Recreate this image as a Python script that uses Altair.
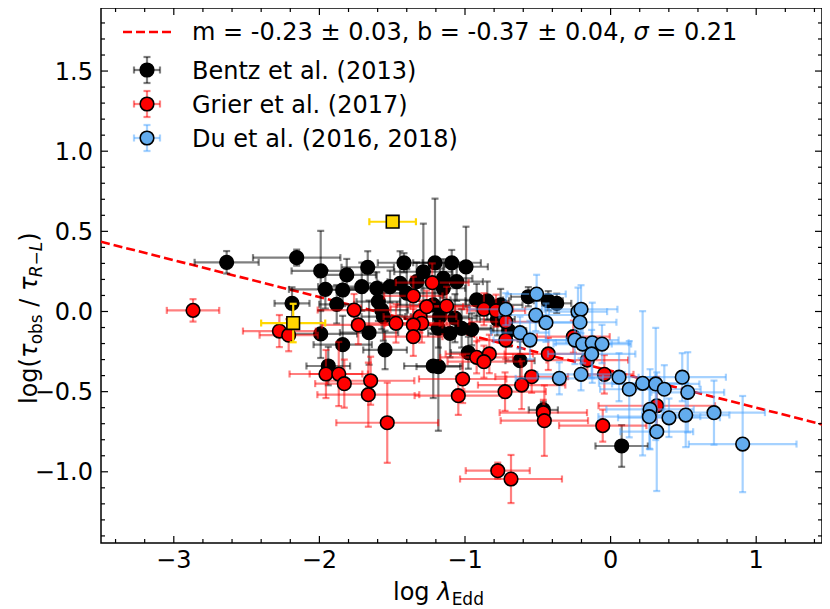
import altair as alt
import pandas as pd

# ---------------- data ----------------
bentz_x = [-2.637, -2.156, -1.991, -2.188, -1.812, -1.959, -1.840, -1.881, -1.991, -1.840,
           -1.939, -1.668, -1.709, -1.606, -1.595, -1.515, -1.446, -1.419, -1.286, -1.206,
           -1.091, -0.993, -1.149, -1.057, -1.149, -1.332, -1.400, -1.572, -1.561, -1.659,
           -1.549, -1.218, -1.172, -1.069, -1.183, -1.103, -1.023, -0.954, -0.977, -1.218,
           -1.183, -0.920, -0.847, -0.755, -0.778, -0.622, -0.565, -0.428, -0.370, -0.462,
           0.076, -0.700]
bentz_y = [0.307, 0.336, 0.253, 0.051, 0.228, 0.138, 0.134, 0.045, -0.140, -0.207,
           -0.340, 0.276, 0.155, 0.145, 0.061, 0.155, 0.176, 0.304, 0.248, 0.304,
           0.304, 0.279, 0.207, 0.186, 0.145, 0.186, 0.114, 0.009, -0.032, -0.132,
           -0.240, 0.041, -0.032, -0.042, -0.105, -0.136, -0.105, -0.111, -0.257, -0.340,
           -0.344, 0.072, 0.067, 0.041, -0.049, -0.307, 0.092, 0.067, 0.051, -0.614,
           -0.839, -0.120]
bentz_xerr = [0.22, 0.30, 0.20, 0.12, 0.20, 0.25, 0.15, 0.12, 0.25, 0.20,
              0.15, 0.18, 0.30, 0.20, 0.15, 0.12, 0.15, 0.18, 0.20, 0.15,
              0.20, 0.15, 0.20, 0.18, 0.15, 0.20, 0.22, 0.18, 0.15, 0.20,
              0.15, 0.25, 0.20, 0.15, 0.18, 0.15, 0.20, 0.15, 0.12, 0.20,
              0.15, 0.18, 0.15, 0.15, 0.12, 0.10, 0.12, 0.10, 0.10, 0.10,
              0.18, 0.12]
bentz_yerr = [0.07, 0.05, 0.25, 0.10, 0.10, 0.12, 0.10, 0.12, 0.15, 0.18,
              0.12, 0.10, 0.15, 0.10, 0.12, 0.10, 0.20, 0.06, 0.30, 0.40,
              0.08, 0.25, 0.12, 0.12, 0.10, 0.12, 0.15, 0.12, 0.15, 0.20,
              0.12, 0.15, 0.30, 0.15, 0.12, 0.15, 0.12, 0.10, 0.10, 0.20,
              0.40, 0.10, 0.12, 0.10, 0.10, 0.12, 0.06, 0.06, 0.06, 0.05,
              0.13, 0.10]

grier_x = [-2.868, -2.275, -2.211, -1.955, -1.867, -1.829, -1.762, -1.733, -1.474, -1.355,
           -1.309, -1.297, -1.355, -1.355, -1.263, -1.225, -1.126, -0.870, -0.787, -0.720,
           -0.720, -0.920, -0.833, -0.870, -0.428, -0.542, -0.611, -1.016, -1.046, -0.725,
           -1.648, -1.664, -1.534, -0.462, -0.455, -0.256, -0.160, -0.043, 0.317, -0.054,
           -0.775, -0.684]
grier_y = [0.007, -0.122, -0.148, -0.390, -0.390, -0.450, 0.009, -0.084, -0.074, 0.097,
           -0.032, -0.074, -0.084, -0.157, 0.030, 0.180, 0.034, 0.014, 0.005, -0.064,
           -0.178, -0.286, -0.265, -0.313, -0.265, -0.407, -0.459, -0.421, -0.525, -0.500,
           -0.432, -0.519, -0.694, -0.631, -0.681, -0.157, -0.303, -0.392, -0.588, -0.712,
           -0.993, -1.045]
grier_xerr = [0.18, 0.25, 0.20, 0.25, 0.20, 0.20, 0.25, 0.25, 0.30, 0.20,
              0.25, 0.25, 0.20, 0.20, 0.25, 0.25, 0.25, 0.20, 0.20, 0.25,
              0.20, 0.25, 0.30, 0.25, 0.30, 0.25, 0.30, 0.30, 0.30, 0.28,
              0.30, 0.35, 0.35, 0.30, 0.30, 0.25, 0.28, 0.20, 0.40, 0.30,
              0.22, 0.35]
grier_yerr = [0.07, 0.10, 0.10, 0.15, 0.20, 0.15, 0.10, 0.12, 0.12, 0.12,
              0.10, 0.12, 0.10, 0.12, 0.10, 0.12, 0.12, 0.10, 0.10, 0.12,
              0.12, 0.10, 0.12, 0.10, 0.10, 0.10, 0.15, 0.15, 0.12, 0.12,
              0.15, 0.20, 0.25, 0.08, 0.22, 0.10, 0.10, 0.12, 0.18, 0.10,
              0.05, 0.15]

du_x = [-0.720, -0.508, -0.514, -0.444, -0.622, -0.554, -0.352, -0.224, -0.203, -0.210,
        -0.245, -0.192, -0.126, -0.059, -0.130, -0.203, 0.058, 0.128, 0.220, 0.310,
        0.369, 0.492, 0.530, 0.271, 0.266, 0.401, 0.516, 0.710, 0.317, 0.907]
du_y = [0.014, 0.109, -0.022, -0.070, -0.132, -0.178, -0.417, -0.001, 0.014, -0.067,
        -0.178, -0.203, -0.195, -0.203, -0.265, -0.392, -0.410, -0.485, -0.448, -0.452,
        -0.485, -0.410, -0.504, -0.610, -0.656, -0.663, -0.646, -0.631, -0.750, -0.827]
du_xerr = [0.25, 0.20, 0.25, 0.25, 0.20, 0.25, 0.30, 0.20, 0.25, 0.25,
           0.30, 0.20, 0.25, 0.20, 0.30, 0.30, 0.25, 0.20, 0.30, 0.30,
           0.25, 0.30, 0.25, 0.30, 0.35, 0.35, 0.30, 0.35, 0.25, 0.37]
du_yerr = [0.10, 0.12, 0.10, 0.12, 0.10, 0.12, 0.10, 0.15, 0.15, 0.12,
           0.15, 0.12, 0.25, 0.12, 0.15, 0.10, 0.15, 0.30, 0.45, 0.35,
           0.15, 0.15, 0.25, 0.25, 0.20, 0.12, 0.20, 0.20, 0.37, 0.30]

special_x = [-2.18, -1.497]
special_y = [-0.072, 0.56]
special_xerr = [0.22, 0.16]
special_yerr = [0.12, 0.0]

fit_m, fit_b = -0.23, -0.37
fit_x = [-3.5, 1.5]

legend_fit_text = "m = -0.23 \u00b1 0.03, b = -0.37 \u00b1 0.04,"
legend_fit_tail = "= 0.21"
legend_labels = ["Bentz et al. (2013)", "Grier et al. (2017)", "Du et al. (2016, 2018)"]

x_major = [-3, -2, -1, 0, 1]
x_major_labels = ["\u22123", "\u22122", "\u22121", "0", "1"]
x_minor = [-3.4, -3.2, -2.8, -2.6, -2.4, -2.2, -1.8, -1.6, -1.4, -1.2, -0.8, -0.6, -0.4,
           -0.2, 0.2, 0.4, 0.6, 0.8, 1.2, 1.4]
y_major = [-1.0, -0.5, 0.0, 0.5, 1.0, 1.5]
y_major_labels = ["\u22121.0", "\u22120.5", "0.0", "0.5", "1.0", "1.5"]
y_minor = [-1.4, -1.3, -1.2, -1.1, -0.9, -0.8, -0.7, -0.6, -0.4, -0.3, -0.2, -0.1,
           0.1, 0.2, 0.3, 0.4, 0.6, 0.7, 0.8, 0.9, 1.1, 1.2, 1.3, 1.4, 1.6, 1.7, 1.8]

# ---------------- styling / layout ----------------
PX_PER_X = 145.6
W, H = 721, 535
X_DOMAIN = [-3.5, -3.5 + W / PX_PER_X]
Y_DOMAIN = [-1.4442, 1.8933]
FONT = "DejaVu Sans"
FS = 24
SUB = 17

BLACK_FILL = "#000000"
RED_FILL = "#ff0000"
BLUE_FILL = "#63acee"
GOLD = "#ffd700"
BLUE_ERR = "#4da6ff"
MSIZE = 185

xs = alt.Scale(domain=X_DOMAIN, nice=False, zero=False)
ys = alt.Scale(domain=Y_DOMAIN, nice=False, zero=False)


def X(f):
    return alt.X(f"{f}:Q", scale=xs, axis=None)


def Y(f):
    return alt.Y(f"{f}:Q", scale=ys, axis=None)


def make_df(x, y, xe, ye):
    df = pd.DataFrame({"x": x, "y": y, "xe": xe, "ye": ye})
    df["xlo"] = df["x"] - df["xe"]
    df["xhi"] = df["x"] + df["xe"]
    df["ylo"] = df["y"] - df["ye"]
    df["yhi"] = df["y"] + df["ye"]
    return df


def errorbars(df, color, opacity, width=2.2, cap=7):
    base = alt.Chart(df)
    layers = [
        base.mark_rule(color=color, opacity=opacity, strokeWidth=width, clip=True)
        .encode(x=X("xlo"), x2="xhi:Q", y=Y("y")),
        base.mark_tick(orient="vertical", size=cap, thickness=width, color=color,
                       opacity=opacity, clip=True).encode(x=X("xlo"), y=Y("y")),
        base.mark_tick(orient="vertical", size=cap, thickness=width, color=color,
                       opacity=opacity, clip=True).encode(x=X("xhi"), y=Y("y")),
    ]
    dv = df[df["ye"] > 0]
    if len(dv):
        bv = alt.Chart(dv)
        layers += [
            bv.mark_rule(color=color, opacity=opacity, strokeWidth=width, clip=True)
            .encode(x=X("x"), y=Y("ylo"), y2="yhi:Q"),
            bv.mark_tick(orient="horizontal", size=cap, thickness=width, color=color,
                         opacity=opacity, clip=True).encode(x=X("x"), y=Y("ylo")),
            bv.mark_tick(orient="horizontal", size=cap, thickness=width, color=color,
                         opacity=opacity, clip=True).encode(x=X("x"), y=Y("yhi")),
        ]
    return layers


def points(df, fill, shape="circle", size=MSIZE):
    return alt.Chart(df).mark_point(shape=shape, filled=True, fill=fill, stroke="black",
                                    strokeWidth=1.6, size=size, opacity=1, clip=True
                                    ).encode(x=X("x"), y=Y("y"))


one = pd.DataFrame({"d": [0]})


def text_at(txt, x, y, size=FS, style="normal", angle=0, align="left"):
    return alt.Chart(one).mark_text(text=txt, font=FONT, fontSize=size, fontStyle=style,
                                    align=align, baseline="alphabetic", angle=angle,
                                    color="black").encode(x=alt.value(x), y=alt.value(y))


df_b = make_df(bentz_x, bentz_y, bentz_xerr, bentz_yerr)
df_g = make_df(grier_x, grier_y, grier_xerr, grier_yerr)
df_d = make_df(du_x, du_y, du_xerr, du_yerr)
df_s = make_df(special_x, special_y, special_xerr, special_yerr)

fit_df = pd.DataFrame({"x": fit_x, "y": [fit_m * v + fit_b for v in fit_x]})

fit_line = alt.Chart(fit_df).mark_line(color="red", strokeWidth=2.6, strokeDash=[9, 4],
                                       clip=True).encode(x=X("x"), y=Y("y"))


# inward ticks on all four sides
def xticks(vals, length):
    d = pd.DataFrame({"v": vals})
    b = alt.Chart(d).mark_rule(color="black", strokeWidth=1.2)
    return [b.encode(x=X("v"), y=alt.value(H), y2=alt.value(H - length)),
            b.encode(x=X("v"), y=alt.value(0), y2=alt.value(length))]


def yticks(vals, length):
    d = pd.DataFrame({"v": vals})
    b = alt.Chart(d).mark_rule(color="black", strokeWidth=1.2)
    return [b.encode(y=Y("v"), x=alt.value(0), x2=alt.value(length)),
            b.encode(y=Y("v"), x=alt.value(W), x2=alt.value(W - length))]


tick_layers = xticks(x_major, 7) + xticks(x_minor, 4) + yticks(y_major, 7) + yticks(y_minor, 4)

# tick labels
xlab_df = pd.DataFrame({"v": x_major, "t": x_major_labels})
ylab_df = pd.DataFrame({"v": y_major, "t": y_major_labels})
label_layers = [
    alt.Chart(xlab_df).mark_text(font=FONT, fontSize=FS, align="center", baseline="alphabetic",
                                 color="black").encode(x=X("v"), y=alt.value(H + 25), text="t:N"),
    alt.Chart(ylab_df).mark_text(font=FONT, fontSize=FS, align="right", baseline="alphabetic",
                                 dy=8.5, color="black").encode(y=Y("v"), x=alt.value(-8), text="t:N"),
]

# legend (drawn inside the plot, upper left)
leg_layers = []
leg_layers.append(alt.Chart(one).mark_rule(color="red", strokeWidth=2.6, strokeDash=[9, 4]).encode(
    x=alt.value(22), x2=alt.value(71), y=alt.value(24)))
leg_layers.append(text_at(legend_fit_text, 91, 32))
sig_x = 91 + 18.40 * FS
leg_layers.append(text_at("\u03c3", sig_x, 32, style="italic"))
leg_layers.append(text_at(legend_fit_tail, sig_x + 0.62 * FS + 0.32 * FS, 32))

leg_rows = [(62, BLACK_FILL, "black", 0.5), (96, RED_FILL, "red", 0.5), (130, BLUE_FILL, BLUE_ERR, 0.5)]
for (ry, fill, ecol, eop), lab in zip(leg_rows, legend_labels):
    cx = 46
    r = alt.Chart(one).mark_rule(color=ecol, opacity=eop, strokeWidth=2.2)
    leg_layers += [
        r.encode(x=alt.value(cx - 13), x2=alt.value(cx + 13), y=alt.value(ry)),
        r.encode(y=alt.value(ry - 13), y2=alt.value(ry + 13), x=alt.value(cx)),
        r.encode(x=alt.value(cx - 13), y=alt.value(ry - 3.5), y2=alt.value(ry + 3.5)),
        r.encode(x=alt.value(cx + 13), y=alt.value(ry - 3.5), y2=alt.value(ry + 3.5)),
        r.encode(y=alt.value(ry - 13), x=alt.value(cx - 3.5), x2=alt.value(cx + 3.5)),
        r.encode(y=alt.value(ry + 13), x=alt.value(cx - 3.5), x2=alt.value(cx + 3.5)),
        alt.Chart(one).mark_point(shape="circle", filled=True, fill=fill, stroke="black",
                                  strokeWidth=1.6, size=MSIZE, opacity=1).encode(
            x=alt.value(cx), y=alt.value(ry)),
        text_at(lab, 91, ry + 9),
    ]

# axis titles (with sub-scripts composed from pieces)
tx0, tyb = 292, 592
title_layers = [
    text_at("log", tx0, tyb),
    text_at("\u03bb", tx0 + 1.843 * FS, tyb, style="italic"),
    text_at("Edd", tx0 + 1.843 * FS + 0.60 * FS, tyb + 5, size=SUB),
]
yx, yy0 = -64, 396
pieces = [
    ("log(", FS, "normal", 0, 1.915 * FS),
    ("\u03c4", FS, "italic", 0, 0.57 * FS),
    ("obs", SUB, "normal", 5, 1.768 * SUB + 0.318 * FS),
    ("/", FS, "normal", 0, 0.655 * FS),
    ("\u03c4", FS, "italic", 0, 0.57 * FS),
    ("R\u2212L", SUB, "italic", 5, 2.09 * SUB),
    (")", FS, "normal", 0, 0.39 * FS),
]
cur = yy0
for txt, size, style, shift, wdt in pieces:
    title_layers.append(text_at(txt, yx + shift, cur, size=size, style=style, angle=270))
    cur -= wdt

layers = [fit_line]
layers += errorbars(df_b, "black", 0.5) + [points(df_b, BLACK_FILL)]
layers += errorbars(df_g, "red", 0.5) + [points(df_g, RED_FILL)]
layers += errorbars(df_d, BLUE_ERR, 0.5) + [points(df_d, BLUE_FILL)]
layers += errorbars(df_s, GOLD, 1.0) + [points(df_s, GOLD, shape="square", size=160)]
layers += tick_layers + label_layers + leg_layers + title_layers

chart = alt.layer(*layers).properties(
    width=W, height=H,
    autosize=alt.AutoSizeParams(type="none"),
    padding={"left": 93, "top": 0, "right": 0, "bottom": 66},
    background="white",
).configure_view(stroke="black", strokeWidth=1.5)

chart.save("out.html", embed_options={"renderer": "svg", "actions": False})
